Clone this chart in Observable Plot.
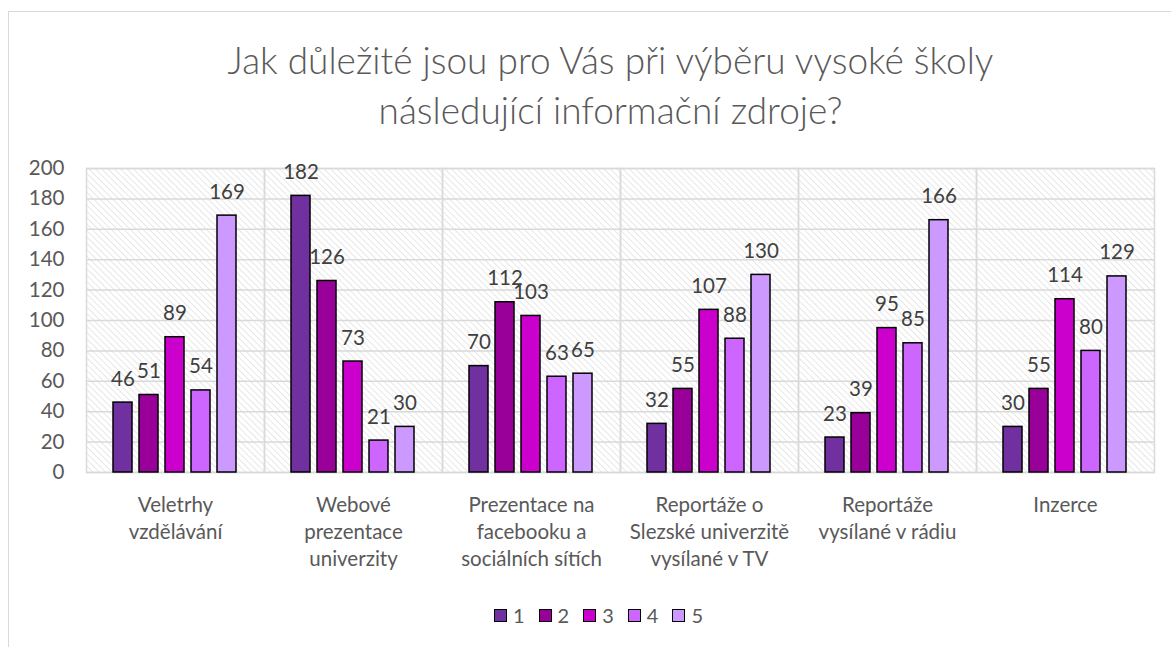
<!DOCTYPE html>
<html>
<head>
<meta charset="utf-8">
<script src="https://cdn.jsdelivr.net/npm/d3@7"></script>
<script src="https://cdn.jsdelivr.net/npm/@observablehq/plot@0.6"></script>
<style>
  html, body { margin: 0; padding: 0; background: #fff; overflow: hidden; }
  body { width: 1171px; height: 647px; position: relative; font-family: Lato, "Open Sans", sans-serif; }
  #frame { position: absolute; left: 8px; top: 11px; width: 1300px; height: 800px; border: 1px solid #d9d9d9; box-sizing: border-box; }
  #title { position: absolute; left: 0; top: 35px; width: 1221px; text-align: center; font-size: 37px; font-weight: 300; color: #595959; line-height: 50px; }
  #chart { position: absolute; left: 0; top: 140px; }
  #legend { position: absolute; left: 494px; top: 603px; display: flex; align-items: center; font-size: 20px; color: #595959; }
  .item { display: flex; align-items: center; margin-right: 14px; }
  .sw { width: 11px; height: 11px; border: 1.5px solid #000; margin-right: 6px; }
</style>
</head>
<body>
<svg width="0" height="0" style="position:absolute">
  <defs>
    <pattern id="hatch" patternUnits="userSpaceOnUse" width="4.5" height="4.5" patternTransform="rotate(-45)">
      <rect width="4.5" height="4.5" fill="#ffffff"></rect>
      <line x1="0" y1="0" x2="0" y2="4.5" stroke="#d9d9d9" stroke-width="1.2"></line>
    </pattern>
  </defs>
</svg>
<div id="frame"></div>
<div id="title">Jak důležité jsou pro Vás při výběru vysoké školy<br>následující informační zdroje?</div>
<div id="chart"></div>
<div id="legend"></div>
<script>
const categories = [
  "Veletrhy vzdělávání",
  "Webové prezentace univerzity",
  "Prezentace na facebooku a sociálních sítích",
  "Reportáže o Slezské univerzitě vysílané v TV",
  "Reportáže vysílané v rádiu",
  "Inzerce"
];
const categoryLabels = [
  "Veletrhy\nvzdělávání",
  "Webové\nprezentace\nuniverzity",
  "Prezentace na\nfacebooku a\nsociálních sítích",
  "Reportáže o\nSlezské univerzitě\nvysílané v TV",
  "Reportáže\nvysílané v rádiu",
  "Inzerce"
];
const series = ["1", "2", "3", "4", "5"];
const colors = ["#7030A0", "#990099", "#CC00CC", "#CC66FF", "#CC99FF"];
const s1 = [46, 182, 70, 32, 23, 30];
const s2 = [51, 126, 112, 55, 39, 55];
const s3 = [89, 73, 103, 107, 95, 114];
const s4 = [54, 21, 63, 88, 85, 80];
const s5 = [169, 30, 65, 130, 166, 129];
const yTicks = [0, 20, 40, 60, 80, 100, 120, 140, 160, 180, 200];

const seriesValues = [s1, s2, s3, s4, s5];
const data = [];
categories.forEach((c, i) => {
  series.forEach((s, j) => data.push({cat: c, s, v: seriesValues[j][i]}));
});
const labelOf = new Map(categories.map((c, i) => [c, categoryLabels[i]]));

const chart = Plot.plot({
  width: 1171,
  height: 442,
  marginTop: 28,
  marginBottom: 110,
  marginLeft: 84,
  marginRight: 16,
  style: {fontFamily: "Lato, 'Open Sans', sans-serif", fontSize: "20.5px", color: "#595959", background: "transparent"},
  fx: {domain: categories, padding: 0},
  x: {domain: series, paddingInner: 0.26, paddingOuter: 0.935, axis: null},
  y: {domain: [0, 200]},
  color: {domain: series, range: colors},
  marks: [
    Plot.frame({fill: "url(#hatch)", stroke: "none"}),
    Plot.gridY(yTicks, {stroke: "#d9d9d9", strokeOpacity: 1, strokeWidth: 1.5}),
    Plot.frame({stroke: "#d9d9d9", strokeWidth: 1.5}),
    Plot.barY(data, {fx: "cat", x: "s", y: "v", fill: "s", stroke: "#000", strokeWidth: 1.5}),
    Plot.text(data, {fx: "cat", x: "s", y: "v", text: d => String(d.v), lineAnchor: "bottom", dy: -17, fill: "#404040"}),
    Plot.axisY(yTicks, {tickSize: 0, tickPadding: 22, label: null}),
    Plot.axisFx({anchor: "bottom", tickSize: 0, tickPadding: 20, label: null, lineHeight: 1.32, tickFormat: d => labelOf.get(d)})
  ]
});
document.getElementById("chart").appendChild(chart);

const legend = document.getElementById("legend");
series.forEach((s, i) => {
  const item = document.createElement("div");
  item.className = "item";
  const sw = document.createElement("div");
  sw.className = "sw";
  sw.style.background = colors[i];
  const t = document.createElement("span");
  t.textContent = s;
  item.appendChild(sw);
  item.appendChild(t);
  legend.appendChild(item);
});
</script>
</body>
</html>
